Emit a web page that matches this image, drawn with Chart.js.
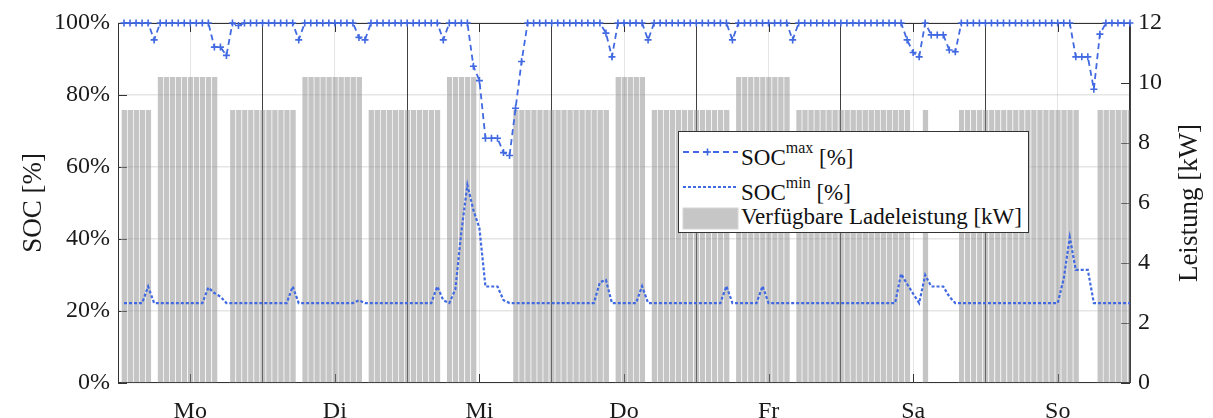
<!DOCTYPE html>
<html>
<head>
<meta charset="utf-8">
<script src="https://cdn.jsdelivr.net/npm/chart.js@4.4.0/dist/chart.umd.min.js"></script>
<style>
  body { margin: 0; background: #fff; }
  #wrap { position: relative; width: 1213px; height: 418px; }
  #legend { position: absolute; left: 678px; top: 131px; width: 349px; height: 100px;
            border: 1px solid #333; background: #fff;
            font-family: "Liberation Serif", serif; font-size: 23px; color: #111; }
  #legend svg { position: absolute; left: 0; top: 0; }
  .lbl { position: absolute; left: 62px; white-space: nowrap; line-height: 1; }
  .lbl sup { font-size: 16px; vertical-align: baseline; position: relative; top: -12px; }
</style>
</head>
<body>
<div id="wrap">
  <canvas id="myChart" width="1213" height="418"></canvas>
  <div id="legend">
    <svg width="349" height="100">
      <line x1="4" y1="20" x2="59" y2="20" stroke="#4169e1" stroke-width="1.8" stroke-dasharray="6 4"/>
      <path d="M28.5 16.5 V23.5 M25 20 H32" stroke="#4169e1" stroke-width="1.6"/>
      <line x1="4" y1="55" x2="59" y2="55" stroke="#4169e1" stroke-width="2.2" stroke-dasharray="3 2"/>
      <rect x="4" y="76" width="55" height="21" fill="#c6c6c6" stroke="#d6d6d6" stroke-width="1"/>
    </svg>
    <span class="lbl" style="top:14px">SOC<sup>max</sup> [%]</span>
    <span class="lbl" style="top:49px">SOC<sup>min</sup> [%]</span>
    <span class="lbl" style="top:73px">Verfügbare Ladeleistung [kW]</span>
  </div>
</div>
<script>
const days = ['Mo', 'Di', 'Mi', 'Do', 'Fr', 'Sa', 'So'];
const L = 9.1, H = 10.2, b = 22.2;

// verfügbare Ladeleistung je Stunde [kW], ein Tag pro Zeile
const ladeleistung = [
  L,L,L,L,L,0,H,H,H,H,H,H,H,H,H,H,0,0,L,L,L,L,L,L,
  L,L,L,L,L,0,H,H,H,H,H,H,H,H,H,H,0,L,L,L,L,L,L,L,
  L,L,L,L,L,0,H,H,H,H,H,0,0,0,0,0,0,L,L,L,L,L,L,L,
  L,L,L,L,L,L,L,L,L,0,H,H,H,H,H,0,L,L,L,L,L,L,L,L,
  L,L,L,L,L,0,H,H,H,H,H,H,H,H,H,0,L,L,L,L,L,L,L,L,
  L,L,L,L,L,L,L,L,L,L,L,0,0,L,0,0,0,0,0,L,L,L,L,L,
  L,L,L,L,L,L,L,L,L,L,L,L,L,L,L,0,0,0,L,L,L,L,L,L
];

// SOC max [%]
const socMax = [
  100,100,100,100,100,95.3,100,100,100,100,100,100,100,100,100,93.3,93.3,91,100,99.3,100,100,100,100,
  100,100,100,100,100,95.3,100,100,100,100,100,100,100,100,100,96,95.3,100,100,100,100,100,100,100,
  100,100,100,100,100,95.3,100,100,100,100,88,84,68,68,68,64,63.2,76.3,89.3,100,100,100,100,100,
  100,100,100,100,100,100,100,100,97.2,90.6,100,100,100,100,100,95.3,100,100,100,100,100,100,100,100,
  100,100,100,100,100,95.3,100,100,100,100,100,100,100,100,100,95.3,100,100,100,100,100,100,100,100,
  100,100,100,100,100,100,100,100,100,100,95.3,91.8,90.6,100,96.7,96.7,96.7,92.5,92,100,100,100,100,100,
  100,100,100,100,100,100,100,100,100,100,100,100,100,100,90.6,90.6,90.6,81.6,96.9,100,100,100,100,100
];

// SOC min [%]
const socMin = [
  b,b,b,b,26.8,b,b,b,b,b,b,b,b,b,26.5,25,24,b,b,b,b,b,b,b,
  b,b,b,b,26.8,b,b,b,b,b,b,b,b,b,b,23,b,b,b,b,b,b,b,b,
  b,b,b,b,26.8,23,b,26,42,55,48,43,26.8,26.8,26.8,23,b,b,b,b,b,b,b,b,
  b,b,b,b,b,b,b,28,28.6,b,b,b,b,b,26.9,b,b,b,b,b,b,b,b,b,
  b,b,b,b,26.9,b,b,b,b,b,26.9,b,b,b,b,b,b,b,b,b,b,b,b,b,
  b,b,b,b,b,b,b,b,b,30.3,27.5,24.8,b,30,26.8,26.8,26.8,24,b,b,b,b,b,b,
  b,b,b,b,b,b,b,b,b,b,b,b,29,40.5,31.4,31.4,31.4,b,b,b,b,b,b,b
];

const hours = socMax.map((_, i) => i + 1);
const blue = '#4169e1';
const axisColor = '#333333';
const titleFont = '27px "Liberation Serif", serif';

Chart.defaults.font.family = '"Liberation Serif", serif';
Chart.defaults.color = '#1a1a1a';

// Achsenrahmen, nach innen zeigende Ticks und rechte Achsenbeschriftung (wie MATLAB)
const rahmen = {
  id: 'rahmen',
  beforeDatasetsDraw(chart) {
    const { ctx, chartArea: a, scales } = chart;
    ctx.save();
    ctx.strokeStyle = axisColor;
    ctx.lineWidth = 1;
    ctx.strokeRect(a.left + 0.5, a.top + 0.5, a.right - a.left - 1, a.bottom - a.top - 1);
    ctx.beginPath();
    scales.y.ticks.forEach(t => {
      const y = Math.round(scales.y.getPixelForValue(t.value)) + 0.5;
      ctx.moveTo(a.left, y); ctx.lineTo(a.left + 9, y);
    });
    scales.y2.ticks.forEach(t => {
      const y = Math.round(scales.y2.getPixelForValue(t.value)) + 0.5;
      ctx.moveTo(a.right, y); ctx.lineTo(a.right - 9, y);
    });
    scales.x.ticks.forEach(t => {
      if (t.value % 24 !== 12) return;
      const x = Math.round(scales.x.getPixelForValue(t.value)) + 0.5;
      ctx.moveTo(x, a.bottom); ctx.lineTo(x, a.bottom - 9);
      ctx.moveTo(x, a.top); ctx.lineTo(x, a.top + 9);
    });
    ctx.stroke();
    ctx.restore();
  },
  afterDraw(chart) {
    const { ctx, chartArea: a } = chart;
    ctx.save();
    ctx.translate(1190, (a.top + a.bottom) / 2);
    ctx.rotate(-Math.PI / 2);
    ctx.font = titleFont;
    ctx.fillStyle = '#1a1a1a';
    ctx.textAlign = 'center';
    ctx.textBaseline = 'middle';
    ctx.fillText('Leistung [kW]', 0, 0);
    ctx.restore();
  }
};

const ctx = document.getElementById('myChart').getContext('2d');
new Chart(ctx, {
  type: 'bar',
  data: {
    datasets: [
      {
        type: 'line',
        label: 'SOC max [%]',
        data: hours.map((h, i) => ({ x: h, y: socMax[i] })),
        yAxisID: 'y',
        borderColor: blue,
        borderWidth: 1.8,
        borderDash: [6, 4],
        pointStyle: 'cross',
        pointRadius: 3.5,
        pointBorderWidth: 1.6,
        pointBorderColor: blue,
        pointBackgroundColor: blue,
        fill: false,
        tension: 0,
        clip: false,
        order: 1
      },
      {
        type: 'line',
        label: 'SOC min [%]',
        data: hours.map((h, i) => ({ x: h, y: socMin[i] })),
        yAxisID: 'y',
        borderColor: blue,
        borderWidth: 2.2,
        borderDash: [3, 2],
        pointRadius: 0,
        fill: false,
        tension: 0,
        order: 2
      },
      {
        type: 'bar',
        label: 'Verfügbare Ladeleistung [kW]',
        data: hours.map((h, i) => ({ x: h, y: ladeleistung[i] })),
        yAxisID: 'y2',
        backgroundColor: 'rgba(140,140,140,0.5)',
        borderColor: 'rgba(255,255,255,0.35)',
        borderWidth: { left: 1, right: 0, top: 0, bottom: 0 },
        borderSkipped: false,
        barPercentage: 1,
        categoryPercentage: 1,
        order: 3
      }
    ]
  },
  options: {
    responsive: false,
    animation: false,
    devicePixelRatio: 1,
    layout: { padding: { top: 23, left: 0, right: 0, bottom: 0 } },
    plugins: {
      legend: { display: false },
      tooltip: { enabled: false }
    },
    scales: {
      x: {
        type: 'linear',
        min: 0,
        max: 168,
        offset: false,
        afterFit: s => { s.height = 35; },
        grid: {
          offset: false,
          drawTicks: false,
          lineWidth: 1,
          color: c => (c.tick && c.tick.value % 24 === 0) ? 'rgba(30,30,30,0.85)' : 'rgba(0,0,0,0.1)'
        },
        border: { display: false },
        ticks: {
          stepSize: 12,
          autoSkip: false,
          maxRotation: 0,
          padding: 14,
          font: { size: 24 },
          callback: v => (v % 24 === 12 ? days[(v - 12) / 24] : '')
        }
      },
      y: {
        position: 'left',
        min: 0,
        max: 100,
        afterFit: s => { s.width = 118; },
        grid: { color: 'rgba(0,0,0,0.1)', lineWidth: 1.5, drawTicks: false },
        border: { display: false },
        ticks: { stepSize: 20, padding: 8, font: { size: 24 }, callback: v => v + '%' },
        title: { display: true, text: 'SOC [%]', font: { size: 27 }, padding: { top: 18, bottom: 0 } }
      },
      y2: {
        position: 'right',
        min: 0,
        max: 12,
        afterFit: s => { s.width = 83; },
        grid: { drawOnChartArea: false, drawTicks: false },
        border: { display: false },
        ticks: { stepSize: 2, padding: 8, font: { size: 24 } }
      }
    }
  },
  plugins: [rahmen]
});
</script>
</body>
</html>
